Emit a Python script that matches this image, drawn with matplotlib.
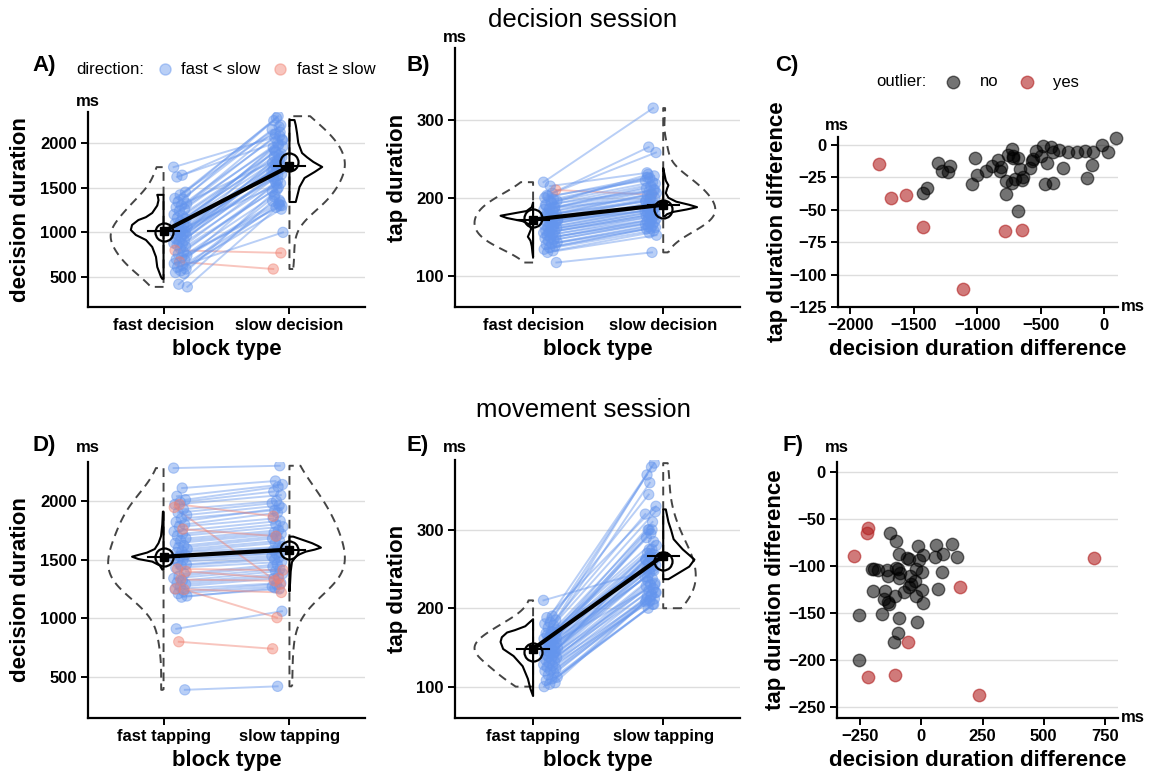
import numpy as np
import matplotlib
matplotlib.use("Agg")
import matplotlib.pyplot as plt
from matplotlib.lines import Line2D

plt.rcParams['font.family'] = ['Liberation Sans', 'DejaVu Sans']

# ---- data: decision session ----
A_cats = ["fast decision", "slow decision"]
A_fast = [1730, 1640, 1620, 1450, 1420, 1380, 1370, 1340, 1320, 1300, 1280, 1260, 1240, 1200,
          1180, 1160, 1150, 1120, 1100, 1090, 1080, 1060, 1040, 1020, 1010, 1000, 1000, 990,
          970, 960, 950, 930, 910, 890, 880, 870, 860, 840, 820, 800, 780, 760, 740, 720, 700,
          690, 670, 650, 630, 610, 590, 570, 550, 540, 420, 390]
A_slow = [2080, 2100, 2030, 2300, 2250, 2200, 2280, 2150, 2180, 2060, 1840, 2000, 1950, 2120,
          1900, 1960, 1980, 1850, 1880, 1700, 1780, 1820, 1760, 2040, 1640, 1700, 1550, 1740,
          1680, 1860, 1920, 1650, 1800, 1620, 1760, 1560, 1720, 1500, 1600, 770, 1540, 1460,
          1360, 1420, 1300, 1580, 590, 1340, 1280, 1000, 1320, 1400, 1260, 1480, 1350, 1300]
A_mean = [1005, 1790]
A_est = [1010, 1740]
A_prof_fast_v = [1420, 1400, 1360, 1300, 1217, 1170, 1138, 1083, 1027, 971, 915, 837, 725, 613, 501, 480]
A_prof_fast_w = [0.05, 0.045, 0.04, 0.05, 0.09, 0.14, 0.2, 0.25, 0.26, 0.22, 0.14, 0.09, 0.06, 0.05, 0.02, 0.01]
A_prof_slow_v = [2257, 2200, 2112, 2000, 1888, 1840, 1788, 1732, 1676, 1609, 1508, 1396, 1340]
A_prof_slow_w = [0.04, 0.05, 0.06, 0.07, 0.1, 0.14, 0.19, 0.26, 0.2, 0.12, 0.08, 0.06, 0.05]

B_fast = [220, 206, 203, 210, 215, 200, 198, 202, 196, 193, 190, 188, 186, 185, 183, 181, 180,
          178, 176, 175, 173, 172, 170, 169, 168, 166, 165, 163, 162, 161, 160, 158, 157, 156,
          155, 153, 152, 150, 149, 148, 146, 145, 143, 141, 140, 138, 136, 134, 132, 130, 117,
          195, 191, 187, 179, 171]
B_slow = [315, 265, 258, 204, 232, 228, 225, 222, 220, 230, 218, 215, 212, 210, 208, 206, 205,
          203, 200, 198, 196, 194, 192, 190, 189, 188, 186, 185, 183, 182, 181, 180, 178, 177,
          176, 175, 173, 172, 170, 169, 168, 166, 165, 163, 162, 161, 160, 158, 155, 152, 130,
          226, 210, 200, 195, 184]
B_mean = [174, 185]
B_est = [172, 191]
B_prof_fast_v = [194, 188, 183, 180, 177, 174, 170, 166, 160, 154, 150, 145, 138, 130, 124]
B_prof_fast_w = [0.0, 0.01, 0.05, 0.15, 0.25, 0.2, 0.08, 0.03, 0.015, 0.03, 0.04, 0.02, 0.01, 0.005, 0.0]
B_prof_slow_v = [238, 230, 222, 216, 212, 206, 200, 195, 191, 188, 185, 182, 179, 176]
B_prof_slow_w = [0.0, 0.01, 0.02, 0.04, 0.03, 0.02, 0.04, 0.1, 0.2, 0.26, 0.18, 0.08, 0.03, 0.01]

C_x_no = [-1305, -1278, -1226, -1213, -1423, -1396, -1016, -1037, -1003, -932, -879, -832, -819,
          -814, -772, -774, -756, -727, -719, -714, -722, -701, -662, -675, -648, -635, -675, -583,
          -570, -557, -535, -496, -483, -451, -465, -420, -399, -399, -352, -326, -281, -215, -150,
          -137, -97, -84, -18, 34, 92]
C_y_no = [-14, -20.4, -21.2, -16.3, -37, -33.4, -10, -30, -23.5, -19.9, -16.3, -11.7, -19.9,
          -17.3, -28, -38.3, -7.7, -3, -10.2, -9, -29.3, -26.3, -19, -51, -26.8, -25, -10.2, -17.9,
          -12.2, -10.7, -4.6, -9, -1, -14, -30.1, -1.5, -5.9, -29.1, -4.3, -18.1, -5.6, -5.9, -5.1,
          -25.5, -15.8, -5.9, -0.5, -5.9, 5.1]
C_x_yes = [-1769, -1677, -1562, -1428, -1108, -780, -643]
C_y_yes = [-14.5, -41.3, -38.8, -63.3, -111, -66.3, -65.3]

# ---- data: movement session ----
D_cats = ["fast tapping", "slow tapping"]
D_fast = [2280, 2110, 2040, 2010, 1990, 1970, 1930, 1900, 1880, 1850, 1820, 1800, 1780, 1740,
          1720, 1700, 1680, 1660, 1640, 1620, 1600, 1590, 1570, 1560, 1540, 1530, 1510, 1500,
          1480, 1460, 1450, 1430, 1380, 1360, 1340, 1320, 1300, 1290, 1270, 1250, 1230, 1210,
          1190, 1180, 910, 390, 1970, 1945, 1760, 1420, 1400, 1330, 1250, 1245, 800]
D_slow = [2300, 2170, 2140, 2120, 2080, 2050, 2000, 1980, 1960, 1920, 1940, 1900, 1850, 1830,
          1800, 1780, 1750, 1730, 1720, 1700, 1680, 1660, 1640, 1610, 1600, 1580, 1560, 1550,
          1530, 1520, 1500, 1480, 1460, 1440, 1420, 1400, 1380, 1360, 1340, 1300, 1290, 1270,
          1250, 1260, 1060, 420, 1870, 1290, 1700, 1410, 1340, 1320, 1220, 1005, 740]
D_mean = [1525, 1585]
D_est = [1525, 1585]
D_prof_fast_v = [1909, 1800, 1700, 1640, 1590, 1560, 1540, 1525, 1505, 1483, 1450, 1415]
D_prof_fast_w = [0.005, 0.01, 0.02, 0.04, 0.07, 0.13, 0.2, 0.25, 0.2, 0.09, 0.03, 0.01]
D_prof_slow_v = [1696, 1670, 1640, 1615, 1602, 1585, 1568, 1545, 1525, 1480, 1400, 1300, 1228]
D_prof_slow_w = [0.03, 0.1, 0.18, 0.23, 0.25, 0.2, 0.13, 0.08, 0.05, 0.02, 0.01, 0.005, 0.0]

E_fast = [210, 190, 188, 185, 182, 180, 178, 175, 172, 170, 168, 165, 163, 161, 160, 158, 156,
          155, 153, 152, 150, 149, 147, 146, 145, 143, 142, 140, 139, 137, 136, 134, 132, 130,
          128, 127, 125, 123, 121, 120, 118, 115, 112, 110, 108, 105, 103, 100, 170, 166, 162,
          157, 150, 144, 138]
E_slow = [250, 345, 330, 380, 370, 385, 360, 320, 310, 300, 323, 295, 290, 285, 300, 280, 275,
          270, 268, 265, 262, 260, 258, 255, 252, 250, 248, 245, 240, 238, 235, 232, 230, 228,
          225, 222, 220, 218, 215, 212, 210, 208, 205, 200, 220, 215, 210, 205, 275, 265, 300,
          240, 230, 270, 262]
E_mean = [144, 260]
E_est = [148, 267]
E_prof_fast_v = [186, 177, 172, 169, 163, 157, 148, 139, 126, 110, 97, 88]
E_prof_fast_w = [0.0, 0.06, 0.14, 0.2, 0.24, 0.25, 0.23, 0.15, 0.08, 0.04, 0.02, 0.0]
E_prof_slow_v = [326, 318, 310, 300, 288, 275, 262, 253, 246, 237]
E_prof_slow_w = [0.02, 0.03, 0.04, 0.06, 0.08, 0.15, 0.24, 0.2, 0.13, 0.04]

F_x_no = [-127, -104, -90, -59, -49, -12, -8, 5, 56, 60, 89, 125, 146, -202, -192, -178, -140,
          -135, -104, -93, -86, -90, -45, -22, 1, -27, -42, -52, -69, -22, 1, 67, 85, -196, -147,
          -154, -131, -137, -106, 5, -161, -253, -90, -18, -97, -110, -253]
F_y_no = [-64.9, -73, -86.9, -91.1, -92.6, -78.4, -94, -88.7, -90.4, -77.3, -86.9, -76.2, -90.1,
          -102.8, -103.2, -103.9, -103.9, -110.6, -102, -103.2, -107, -112.8, -111, -103.2, -106.4,
          -116.3, -119.5, -122.3, -127.7, -131.9, -125.9, -124, -106.4, -127, -126.6, -134.7, -140,
          -138.6, -131.9, -139, -150.7, -152.5, -155.3, -160, -171.3, -181.2, -200.3]
F_x_yes = [-274, -219, -222, 704, 159, -56, -217, -106, 237]
F_y_yes = [-89, -59.6, -64.2, -91.5, -122, -181, -218, -216, -238]

W, H = 1160, 773
BLUE = "#6495ED"
SALMON = "#F08070"
OUT_RED = "#B22222"

fig = plt.figure(figsize=(W / 100, H / 100), dpi=100)


def px(x, y):
    return x / W, 1 - y / H


def make_axes(l, t, r, b, xlim, ylim):
    ax = fig.add_axes([l / W, 1 - b / H, (r - l) / W, (b - t) / H])
    ax.set_xlim(*xlim)
    ax.set_ylim(*ylim)
    for s in ("top", "right"):
        ax.spines[s].set_visible(False)
    for s in ("left", "bottom"):
        ax.spines[s].set_linewidth(1.6)
    ax.yaxis.grid(True, color="#DDDDDD", lw=1.0)
    ax.set_axisbelow(True)
    ax.tick_params(length=5, width=1.4, labelsize=12, pad=3)
    ax._px = (l, r)
    return ax


def place_ylabel(ax, right_px):
    l, r = ax._px
    ax.yaxis.set_label_coords((right_px - l) / (r - l), 0.5)


def bold_ticks(ax):
    for lab in ax.get_xticklabels() + ax.get_yticklabels():
        lab.set_fontweight("bold")


def half_profile(ax, pos, vals, widths, side):
    vals = np.asarray(vals)
    widths = np.asarray(widths)
    if side == "low":
        ax.fill_betweenx(vals, pos - widths, pos, facecolor="none", edgecolor="black", lw=1.5, zorder=4)
    else:
        ax.fill_betweenx(vals, pos, pos + widths, facecolor="none", edgecolor="black", lw=1.5, zorder=4)


def paired_panel(ax, fast, slow, mean, est, prof, cats, yticks, ylabel, label_px,
                 vwidths=(0.88, 0.88)):
    fast = np.asarray(fast)
    slow = np.asarray(slow)
    n = len(fast)
    # deterministic spread of the points next to each category
    xf = 1.08 + 0.11 * ((np.arange(n) * 0.618) % 1.0)
    xs = 1.95 - 0.09 * ((np.arange(n) * 0.382 + 0.3) % 1.0)
    cols = [SALMON if fast[i] >= slow[i] else BLUE for i in range(n)]
    for i in range(n):
        ax.plot([xf[i], xs[i]], [fast[i], slow[i]], color=cols[i], alpha=0.45, lw=1.4, zorder=2)
    for x, v in ((xf, fast), (xs, slow)):
        ax.scatter(x, v, s=55, c=cols, alpha=0.45, edgecolors=cols, linewidths=0.8, zorder=3)

    for data, pos, side, vw in ((fast, 1, "low", vwidths[0]), (slow, 2, "high", vwidths[1])):
        vp = ax.violinplot([data], positions=[pos], widths=vw, showextrema=False,
                           side=side, bw_method=0.5)
        for body in vp["bodies"]:
            body.set_facecolor("none")
            body.set_edgecolor("#444444")
            body.set_alpha(1)
            body.set_linewidth(1.4)
            body.set_linestyle((0, (4.5, 3)))
            body.set_zorder(4)

    half_profile(ax, 1, prof[0], prof[1], "low")
    half_profile(ax, 2, prof[2], prof[3], "high")

    ax.plot([1, 2], est, color="black", lw=3, zorder=5, solid_capstyle="butt")
    for pos, e in zip((1, 2), est):
        ax.plot([pos - 0.12, pos + 0.12], [e, e], color="black", lw=1.5, zorder=6)
    ax.plot([1, 2], est, "s", color="black", ms=6, lw=0, zorder=6)
    ax.plot([1, 2], mean, "o", mfc="none", mec="black", mew=1.6, ms=13, lw=0, zorder=6)

    ax.set_xticks([1, 2], cats)
    ax.set_yticks(yticks)
    ax.set_xlabel("block type", fontsize=16, fontweight="bold", labelpad=4)
    ax.set_ylabel(ylabel, fontsize=16, fontweight="bold")
    place_ylabel(ax, label_px)
    bold_ticks(ax)


def scatter_panel(ax, xn, yn, xy, yy, xticks, yticks, label_px):
    ax.scatter(xn, yn, s=80, c="black", alpha=0.55, edgecolors="black", linewidths=1,
               zorder=3, clip_on=False)
    ax.scatter(xy, yy, s=80, c=OUT_RED, alpha=0.6, edgecolors=OUT_RED, linewidths=1,
               zorder=3, clip_on=False)
    ax.set_xticks(xticks)
    ax.set_yticks(yticks)
    ax.set_xlabel("decision duration difference", fontsize=16, fontweight="bold", labelpad=4)
    ax.set_ylabel("tap duration difference", fontsize=16, fontweight="bold")
    place_ylabel(ax, label_px)
    bold_ticks(ax)


axA = make_axes(88, 112, 365, 307, (0.4, 2.6), (165, 2347))
paired_panel(axA, A_fast, A_slow, A_mean, A_est,
             (A_prof_fast_v, A_prof_fast_w, A_prof_slow_v, A_prof_slow_w),
             A_cats, [500, 1000, 1500, 2000], "decision duration", 31, (0.84, 0.88))

axB = make_axes(455, 48, 740, 307, (0.4, 2.59), (60, 392))
paired_panel(axB, B_fast, B_slow, B_mean, B_est,
             (B_prof_fast_v, B_prof_fast_w, B_prof_slow_v, B_prof_slow_w),
             A_cats, [100, 200, 300], "tap duration", 408, (0.9, 0.8))

axC = make_axes(838, 137, 1118, 307, (-2095, 110), (-125, 6))
scatter_panel(axC, C_x_no, C_y_no, C_x_yes, C_y_yes,
              [-2000, -1500, -1000, -500, 0], [0, -25, -50, -75, -100, -125], 788)

axD = make_axes(88, 462, 365, 718, (0.4, 2.6), (150, 2332))
paired_panel(axD, D_fast, D_slow, D_mean, D_est,
             (D_prof_fast_v, D_prof_fast_w, D_prof_slow_v, D_prof_slow_w),
             D_cats, [500, 1000, 1500, 2000], "decision duration", 31, (0.88, 0.88))

axE = make_axes(455, 460, 740, 718, (0.4, 2.59), (60, 389))
paired_panel(axE, E_fast, E_slow, E_mean, E_est,
             (E_prof_fast_v, E_prof_fast_w, E_prof_slow_v, E_prof_slow_w),
             D_cats, [100, 200, 300], "tap duration", 408, (0.9, 0.5))

axF = make_axes(837, 462, 1118, 718, (-344, 803), (-262, 11))
scatter_panel(axF, F_x_no, F_y_no, F_x_yes, F_y_yes,
              [-250, 0, 250, 500, 750], [0, -50, -100, -150, -200, -250], 786)

# titles, panel letters, unit labels
fig.text(*px(583, 20), "decision session", fontsize=18.5, ha="center", va="center")
fig.text(*px(583, 410), "movement session", fontsize=18.5, ha="center", va="center")
for lab, x, y in (("A)", 32, 65), ("B)", 407, 65), ("C)", 775, 65),
                  ("D)", 32, 445), ("E)", 407, 445), ("F)", 782, 445)):
    fig.text(*px(x, y), lab, fontsize=16, fontweight="bold", ha="left", va="center")
for x, y in ((88, 102), (455, 38), (837, 125), (88, 448), (455, 448), (837, 448)):
    fig.text(*px(x, y), "ms", fontsize=12, fontweight="bold", ha="center", va="center")
for y in (307, 718):
    fig.text(*px(1121, y), "ms", fontsize=12, fontweight="bold", ha="left", va="center")

# legends
fig.text(*px(76, 69), "direction:", fontsize=12, ha="left", va="center")
fig.add_artist(Line2D([165 / W], [1 - 69 / H], marker="o", ms=8, color=BLUE, alpha=0.45, lw=0))
fig.text(*px(181, 69), "fast < slow", fontsize=12, ha="left", va="center")
fig.add_artist(Line2D([280 / W], [1 - 69 / H], marker="o", ms=8, color=SALMON, alpha=0.45, lw=0))
fig.text(*px(297, 69), "fast \u2265 slow", fontsize=12, ha="left", va="center")

fig.text(*px(876, 82), "outlier:", fontsize=12, ha="left", va="center")
fig.add_artist(Line2D([953 / W], [1 - 82 / H], marker="o", ms=9, color="black", alpha=0.55, lw=0))
fig.text(*px(980, 82), "no", fontsize=12, ha="left", va="center")
fig.add_artist(Line2D([1027 / W], [1 - 82 / H], marker="o", ms=9, color=OUT_RED, alpha=0.6, lw=0))
fig.text(*px(1053, 82), "yes", fontsize=12, ha="left", va="center")

fig.savefig("out.png", dpi=100)
